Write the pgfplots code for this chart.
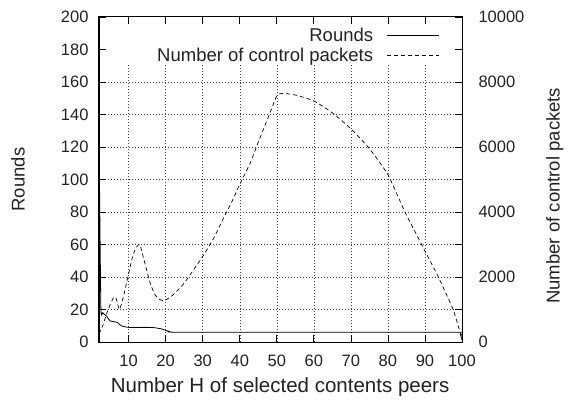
\documentclass[border=0pt]{standalone}
\usepackage{pgfplots}
\pgfplotsset{compat=1.18}
\usepackage{fontspec}
\setmainfont{Liberation Sans}
\definecolor{txt}{HTML}{222222}

\pgfplotstableread{
x y
2 130
2.5 22
3 18
4 16
5 13
6 12.5
7 12
8 10
10 9
15 9
17 8.8
19 8
21 6.5
25 6
99 6
99.6 4.5
100 1
}\roundsdata

\pgfplotstableread{
x y
2 250
3 500
4 850
5 1150
6 1380
6.6 1350
7.5 1000
8.5 1350
10 2100
11 2600
12 2900
13 3000
14 2600
15 2150
16 1750
17 1480
18 1330
19.3 1270
20 1290
22 1450
25 1810
28 2300
30 2630
33 3200
35 3670
38 4350
40 4850
42.8 5500
45 6150
48 7000
50 7575
51.5 7650
55 7600
60 7420
65 7050
70 6560
75 5950
80 5150
84.6 4000
89.1 3000
93.6 2000
97.6 1000
100 100
}\ctrldata

\pgfplotsset{
  base/.style={
    scale only axis, width=363bp, height=325bp,
    xmin=2, xmax=100, xtick={10,20,...,100},
    at={(0,0)}, anchor=south west,
    tick align=inside, major tick length=7bp, minor tick length=7bp,
    every tick/.style={black, line width=0.7bp},
    axis line style={black, line width=1bp},
    /pgf/number format/assume math mode=true,
    /pgf/number format/1000 sep={},
    tick label style={font=\fontsize{16.5bp}{18bp}\selectfont, text=txt},
    scaled ticks=false,
  }
}

\begin{document}
\begin{tikzpicture}
\begin{axis}[base,
  ymin=0, ymax=200, ytick={0,20,...,200},
  grid=major,
  major grid style={black!75, line width=0.5bp, dash pattern=on 0.8bp off 2.2bp},
  xticklabel style={yshift=-9bp},
  yticklabel style={xshift=-7bp},
  xlabel={Number H of selected contents peers},
  ylabel={Rounds},
  xlabel style={font=\fontsize{20.5bp}{22bp}\selectfont, text=txt, at={(axis description cs:0.499,-0.14)}, anchor=center},
  ylabel style={font=\fontsize{18.5bp}{20bp}\selectfont, text=txt, at={(axis description cs:-0.223,0.5)}, anchor=center},
]
\fill[white] (axis cs:2.3,170.6) rectangle (axis cs:99.7,199.7);
\addplot[black, line width=0.8bp, smooth, tension=0.3] table[x=x,y=y] {\roundsdata};
\end{axis}
\begin{axis}[base,
  axis on top,
  ymin=0, ymax=10000, ytick={0,1000,...,10000},
  yticklabels={0,,2000,,4000,,6000,,8000,,10000},
  ytick pos=both, yticklabel pos=right,
  xticklabels={},
  yticklabel style={xshift=13bp},
  ylabel={Number of control packets},
  ylabel style={font=\fontsize{18.5bp}{20bp}\selectfont, text=txt, at={(axis description cs:1.256,0.45)}, anchor=center, rotate=0},
  legend plot pos=right,
  legend cell align=right,
  legend style={draw=none, fill=none, inner sep=0pt, at={(axis description cs:0.937,0.972)}, anchor=north east,
    font=\fontsize{18.5bp}{18bp}\selectfont, text=txt, row sep=1bp},
  legend image code/.code={\path (0bp,0bp); \draw[#1] (11bp,0bp) -- (63bp,0bp);},
]
\addlegendimage{black, line width=0.8bp, solid}
\addlegendentry{Rounds}
\addplot[black, line width=0.7bp, dash pattern=on 4bp off 3bp, smooth, tension=0.3] table[x=x,y=y] {\ctrldata};
\addlegendentry{Number of control packets}
\end{axis}
\pgfresetboundingbox
\useasboundingbox (-99bp,-58bp) rectangle (470bp,342bp);
\end{tikzpicture}
\end{document}
